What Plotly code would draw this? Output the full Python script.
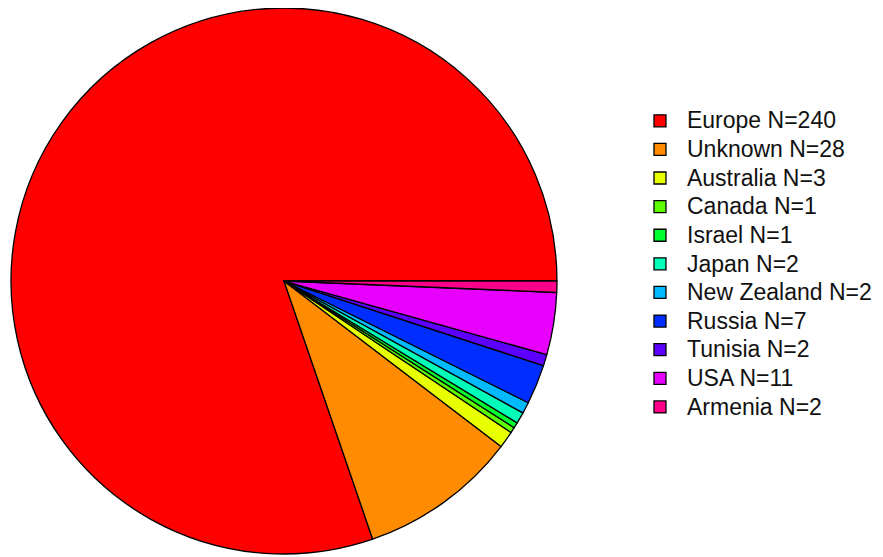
import plotly.graph_objects as go

regions = ["Europe", "Unknown", "Australia", "Canada", "Israel", "Japan",
           "New Zealand", "Russia", "Tunisia", "USA", "Armenia"]
counts = [240, 28, 3, 1, 1, 2, 2, 7, 2, 11, 2]
colors = ["#FF0000", "#FF8B00", "#E8FF00", "#5DFF00", "#00FF2E", "#00FFB9",
          "#00B9FF", "#002EFF", "#5D00FF", "#E800FF", "#FF008B"]
labels = [f'<span style="font-size:23px">{r} N={n}</span>' for r, n in zip(regions, counts)]

# first slice (Europe) starts at 3 o'clock and runs counter-clockwise
total = sum(counts)
rot = 90 + 360 * (total - counts[0]) / total

fig = go.Figure(go.Pie(
    labels=labels, values=counts, sort=False,
    direction="counterclockwise", rotation=rot,
    marker=dict(colors=colors, line=dict(color="black", width=1.3)),
    textinfo="none", hoverinfo="label+value",
    domain=dict(x=[0.0034, 0.6217], y=[0.0197, 1.0]),
))
fig.update_layout(
    width=883, height=557,
    margin=dict(l=0, r=0, t=0, b=0),
    paper_bgcolor="white", plot_bgcolor="white",
    legend=dict(x=0.7078, y=0.5404, xanchor="left", yanchor="middle",
                font=dict(family="Liberation Sans, Arial", size=19.7, color="#111"),
                itemwidth=44, bgcolor="rgba(0,0,0,0)"),
)
fig.write_html("out.html")
